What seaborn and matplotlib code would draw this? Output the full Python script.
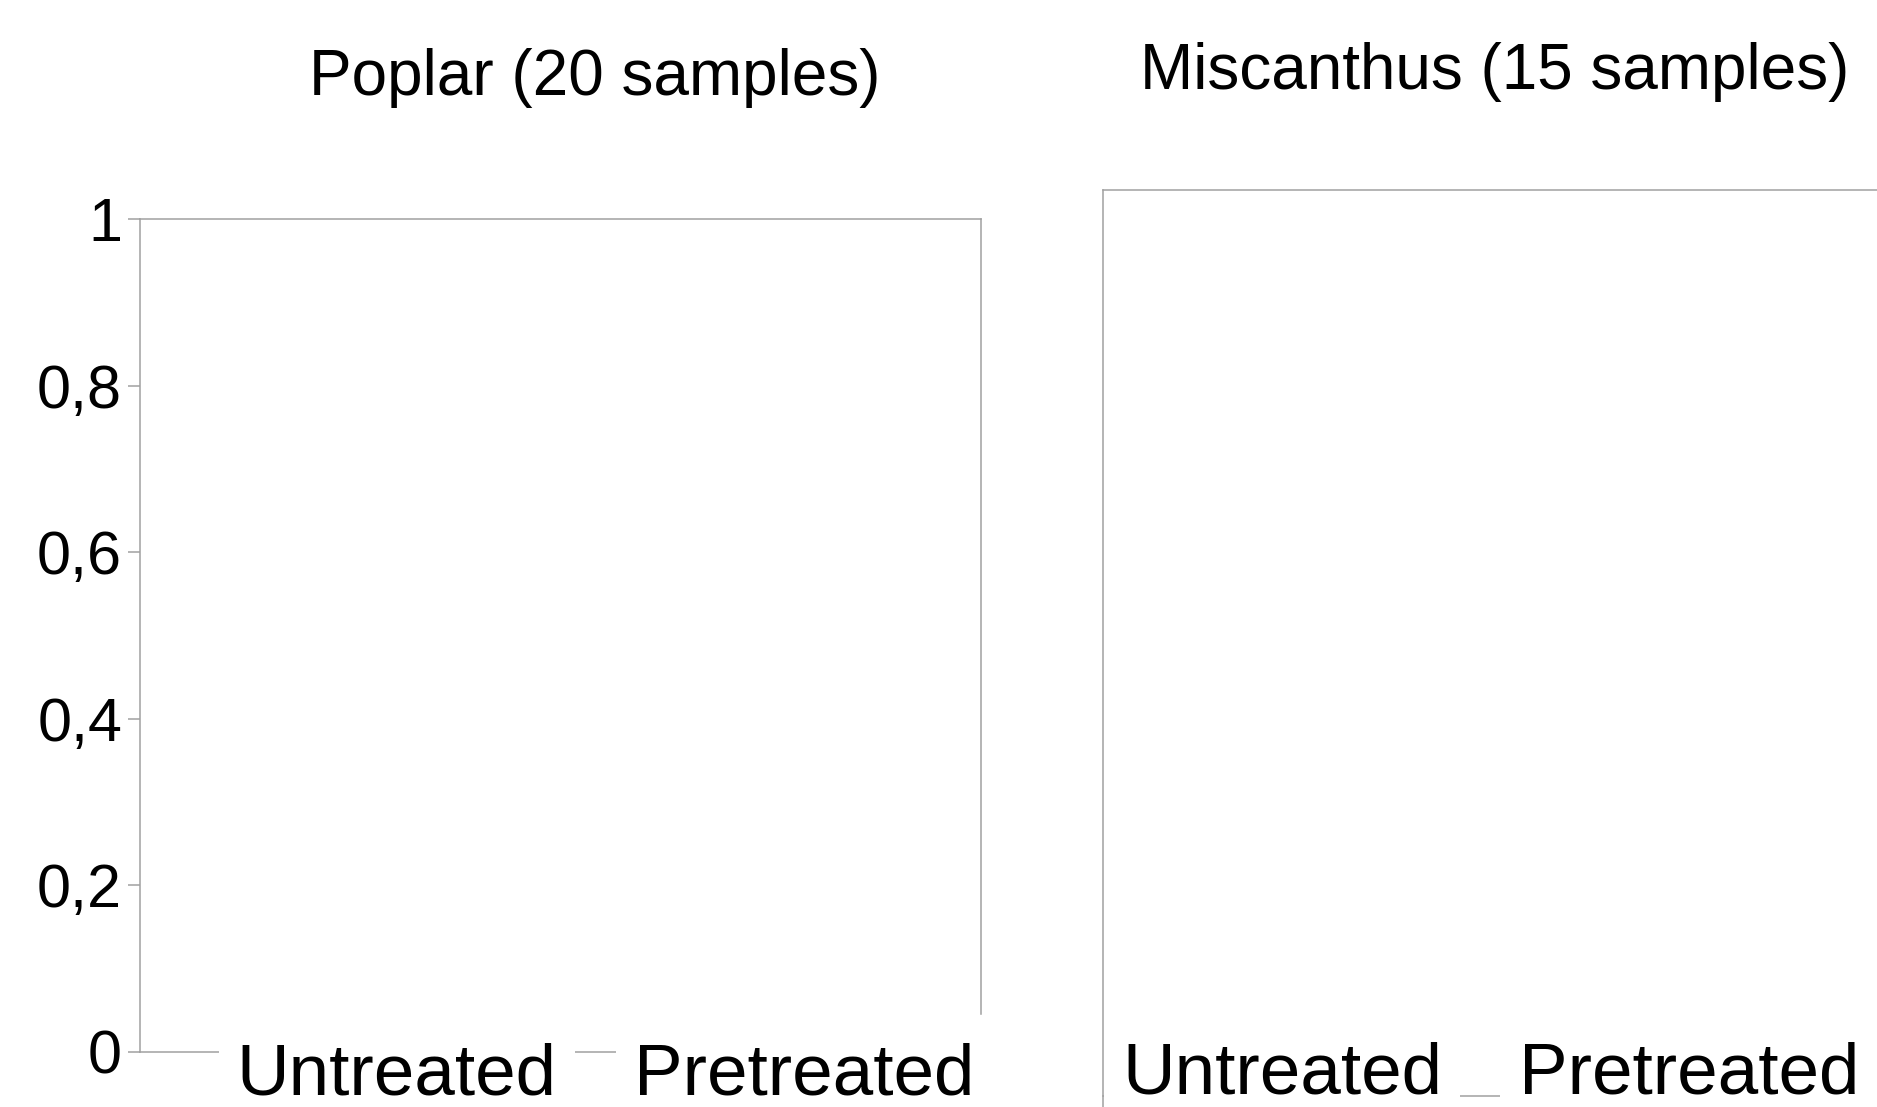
import numpy as np
import pandas as pd
import matplotlib
matplotlib.use("Agg")
import matplotlib.pyplot as plt
import seaborn as sns

sns.set_theme(style="white")
plt.rcParams['font.family'] = ['Liberation Sans', 'DejaVu Sans']
plt.rcParams['text.color'] = 'black'

# Data (the reference shows empty panels, no bars are drawn)
treatments = ["Untreated", "Pretreated"]
poplar_values = [0.0, 0.0]
miscanthus_values = [0.0, 0.0]
titles = ["Poplar (20 samples)", "Miscanthus (15 samples)"]
y_ticks = [0, 0.2, 0.4, 0.6, 0.8, 1]
y_tick_labels = ["0", "0,2", "0,4", "0,6", "0,8", "1"]

W, H = 1877, 1107
fig = plt.figure(figsize=(W / 100, H / 100), dpi=100)

def px_box(x0, y0, x1, y1):
    return [x0 / W, 1 - y1 / H, (x1 - x0) / W, (y1 - y0) / H]

ax1 = fig.add_axes(px_box(140, 219, 981, 1052))
ax2 = fig.add_axes(px_box(1103, 190, 1944, 1096))

spine_col = "#a0a0a0"
box = dict(boxstyle="square,pad=0.25", fc="white", ec="none")

for ax, vals, xlim, pad in [(ax1, poplar_values, (-0.631, 1.435), -7),
                            (ax2, miscanthus_values, (-0.44, 1.627), -39)]:
    df = pd.DataFrame({"Treatment": treatments, "Value": vals})
    sns.barplot(data=df, x="Treatment", y="Value", ax=ax, color="#004586", linewidth=0)
    ax.set_xlim(*xlim)
    ax.set_ylim(0, 1)
    ax.set_xlabel("")
    ax.set_ylabel("")
    for s in ax.spines.values():
        s.set_color(spine_col)
        s.set_linewidth(1.1)
        s.set_visible(True)
    ax.tick_params(axis="x", length=0, pad=pad, labelsize=52.5, labelcolor="black")
    ax.xaxis.set_zorder(5)
    for lab in ax.get_xticklabels():
        lab.set_bbox(box)

ax1.set_yticks(y_ticks)
ax1.set_yticklabels(y_tick_labels)
ax1.tick_params(axis="y", left=True, length=8.6, width=1.1, color=spine_col,
                pad=4.3, labelsize=44, labelcolor="black")
ax1.spines["right"].set_bounds(0.046, 1)
ax2.set_yticks([])
ax2.spines["left"].set_bounds(-0.015, 1)

fig.text(595 / W, 1 - 78 / H, titles[0], fontsize=46, ha="center", va="center", color="black")
fig.text(1495 / W, 1 - 72 / H, titles[1], fontsize=46, ha="center", va="center", color="black")

fig.savefig("out.png", dpi=100)
